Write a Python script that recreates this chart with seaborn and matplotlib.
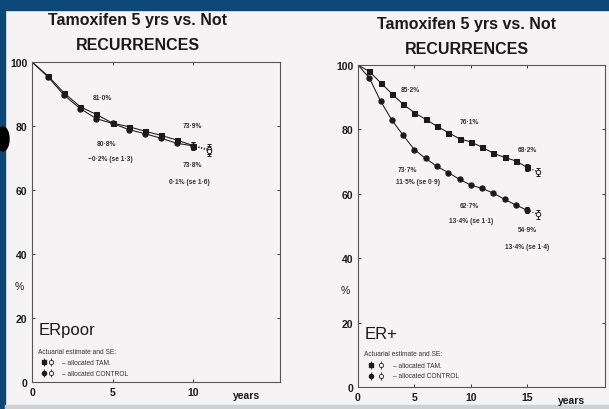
import matplotlib
import pandas as pd
import seaborn as sns

matplotlib.use("Agg")
import matplotlib.pyplot as plt
from matplotlib.patches import Ellipse, Rectangle


# ERpoor panel (years 0-10, open point at 11)
YEARS_POOR = list(range(0, 11))
TAM_POOR = [100, 95.6, 90.3, 86.0, 83.6, 80.9, 79.8, 78.4, 77.1, 75.6, 73.9]
CTRL_POOR = [100, 95.3, 89.6, 85.4, 82.3, 80.8, 78.9, 77.6, 76.2, 74.6, 73.8]
OPEN_YEAR_POOR = 11
OPEN_TAM_POOR = 72.7
OPEN_CTRL_POOR = 72.3
SE_LAST_POOR = 1.2
SE_OPEN_POOR = 1.6

# ER+ panel (years 0-15, open point at 16)
YEARS_POS = list(range(0, 16))
TAM_POS = [100, 98.0, 94.5, 91.1, 87.8, 85.2, 83.1, 81.0, 79.0, 77.1, 76.1,
           74.5, 72.6, 71.3, 70.2, 68.2]
CTRL_POS = [100, 96.0, 88.8, 82.9, 78.2, 73.7, 71.0, 68.5, 66.6, 64.5, 62.7,
            61.7, 60.2, 58.3, 56.5, 54.9]
OPEN_YEAR_POS = 16
OPEN_TAM_POS = 66.8
OPEN_CTRL_POS = 53.6
SE_LAST_POS = 1.0
SE_OPEN_POS = 1.3

TITLE_1 = "Tamoxifen 5 yrs vs. Not"
TITLE_2 = "RECURRENCES"

# annotation texts: (x in years, y in %, text)
NOTES_POOR = [
    (4.4, 89.0, "81·0%"),
    (4.65, 74.4, "80·8%"),
    (4.85, 69.7, "−0·2% (se 1·3)"),
    (9.95, 80.0, "73·9%"),
    (9.95, 68.0, "73·8%"),
    (9.8, 62.5, "0·1% (se 1·6)"),
]
NOTES_POS = [
    (4.6, 92.5, "85·2%"),
    (9.9, 82.3, "76·1%"),
    (15.0, 73.9, "68·2%"),
    (4.4, 67.5, "73·7%"),
    (5.3, 63.8, "11·5% (se 0·9)"),
    (9.9, 56.5, "62·7%"),
    (10.0, 51.6, "13·4% (se 1·1)"),
    (15.0, 48.8, "54·9%"),
    (15.0, 43.6, "13·4% (se 1·4)"),
]

BG = "#f5f3f4"
NAVY = "#0c4877"
INK = "#1a1a1a"


def draw_panel(ax, years, tam, ctrl, open_year, open_tam, open_ctrl,
               se_last, se_open, notes, xmax, xticks, name, leg_x, leg_rows):
    ax.set_facecolor(BG)
    n = len(years)
    sns.lineplot(x=years, y=tam, ax=ax, color=INK, lw=0.75, marker="s",
                 markersize=3.6, markevery=list(range(1, n)), mec=INK)
    sns.lineplot(x=years, y=ctrl, ax=ax, color=INK, lw=0.75, marker="o",
                 markersize=3.8, markevery=list(range(1, n)), mec=INK)

    # dotted extension to the open (final) estimate
    for last, op in ((tam[-1], open_tam), (ctrl[-1], open_ctrl)):
        sns.lineplot(x=[years[-1], open_year], y=[last, op], ax=ax,
                     color=INK, lw=0.8, linestyle=(0, (1, 1.5)))
        ax.errorbar(years[-1], last, yerr=se_last, fmt="none", ecolor=INK,
                    elinewidth=0.7, capsize=1.3, capthick=0.7)
        ax.errorbar(open_year, op, yerr=se_open, fmt="o", ms=3.2, mfc="white",
                    mec=INK, mew=0.7, ecolor=INK, elinewidth=0.7,
                    capsize=1.3, capthick=0.7)

    for x, y, t in notes:
        ax.text(x, y, t, fontsize=4.8, color="#333333", ha="center",
                va="center", fontweight="bold")

    ax.set_xlim(0, xmax)
    ax.set_ylim(0, 100)
    ax.set_xticks(xticks)
    ax.set_yticks([0, 20, 40, 60, 80, 100])
    ax.tick_params(direction="in", top=True, right=True, length=2.5,
                   width=0.6, labelsize=7.5, colors=INK)
    for lab in ax.get_xticklabels() + ax.get_yticklabels():
        lab.set_fontweight("bold")
    for sp in ax.spines.values():
        sp.set_color("#555555")
        sp.set_linewidth(0.8)
    ax.set_xlabel("")
    ax.set_ylabel("")

    ax.text(-0.05, 0.30, "%", transform=ax.transAxes, fontsize=7.5,
            ha="center", va="center", color=INK)
    ax.annotate("years", xy=(0.865, 0), xycoords="axes fraction",
                xytext=(0, -5.5), textcoords="offset points", ha="center",
                va="top", fontsize=7.5, fontweight="bold", color=INK)

    # panel name and inline key
    ax.text(0.025, 0.165, name, transform=ax.transAxes, fontsize=12,
            ha="left", va="center", color=INK)
    ax.text(0.025, leg_rows[0], "Actuarial estimate and SE:",
            transform=ax.transAxes, fontsize=4.8, ha="left", va="center",
            color="#333333")
    for row_y, mk, label in ((leg_rows[1], "s", "– allocated TAM."),
                             (leg_rows[2], "o", "– allocated CONTROL")):
        ax.errorbar(leg_x[0], row_y, yerr=0.012, fmt=mk, ms=3, color=INK,
                    elinewidth=0.6, transform=ax.transAxes)
        ax.errorbar(leg_x[1], row_y, yerr=0.012, fmt="o", ms=3, mfc="white",
                    mec=INK, mew=0.6, ecolor=INK, elinewidth=0.6,
                    transform=ax.transAxes)
        ax.text(leg_x[2], row_y, label, transform=ax.transAxes, fontsize=4.8,
                ha="left", va="center", color="#333333")


def main() -> None:
    sns.set_style("ticks")
    plt.rcParams["font.family"] = ["Liberation Sans", "DejaVu Sans"]

    W, H = 609, 410
    fig = plt.figure(figsize=(W / 100, H / 100), dpi=100, facecolor=BG)

    # slide frame, kept behind the axes
    frame = [
        Rectangle((0, 1 - 11 / H), 1, 11 / H, color=NAVY),
        Rectangle((0, 0), 5 / W, 1, color=NAVY),
        Rectangle((5 / W, 0), 1, 4 / H, color="#cfd0d4"),
        Ellipse((3 / W, 1 - 140 / H), 12 / W, 24 / H, color="black"),
    ]
    for p in frame:
        p.set_transform(fig.transFigure)
        p.set_zorder(-5)
        fig.patches.append(p)

    ax1 = fig.add_axes([32 / W, (H - 383) / H, 248 / W, 320 / H])
    ax2 = fig.add_axes([358 / W, (H - 388) / H, 247 / W, 322 / H])

    draw_panel(ax1, YEARS_POOR, TAM_POOR, CTRL_POOR, OPEN_YEAR_POOR,
               OPEN_TAM_POOR, OPEN_CTRL_POOR, SE_LAST_POOR, SE_OPEN_POOR,
               NOTES_POOR, 15.4, [0, 5, 10], "ERpoor",
               (0.048, 0.077, 0.12), (0.094, 0.062, 0.028))
    draw_panel(ax2, YEARS_POS, TAM_POS, CTRL_POS, OPEN_YEAR_POS,
               OPEN_TAM_POS, OPEN_CTRL_POS, SE_LAST_POS, SE_OPEN_POS,
               NOTES_POS, 21.9, [0, 5, 10, 15], "ER+",
               (0.052, 0.095, 0.14), (0.105, 0.068, 0.035))

    for cx, y1, y2 in ((138, 20, 46), (467, 24, 49)):
        fig.text(cx / W, 1 - y1 / H, TITLE_1, ha="center", va="center",
                 fontsize=11.5, fontweight="bold", color=INK)
        fig.text(cx / W, 1 - y2 / H, TITLE_2, ha="center", va="center",
                 fontsize=11.5, fontweight="bold", color=INK)

    fig.savefig("out.png", dpi=100, facecolor=BG)
    plt.close(fig)


if __name__ == "__main__":
    main()
